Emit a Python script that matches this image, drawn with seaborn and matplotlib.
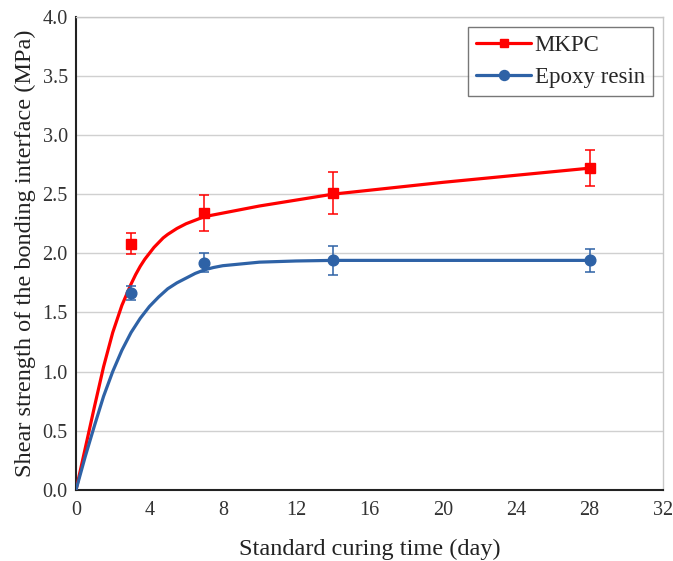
import numpy as np
import pandas as pd
import matplotlib.pyplot as plt
import seaborn as sns
from matplotlib.lines import Line2D
from matplotlib.ticker import MultipleLocator

# measured points (mean, error)
days = [3, 7, 14, 28]
mkpc_mean = [2.08, 2.34, 2.51, 2.72]
mkpc_err = [0.09, 0.15, 0.18, 0.15]
epoxy_mean = [1.665, 1.92, 1.94, 1.94]
epoxy_err = [0.06, 0.08, 0.12, 0.095]

# fitted curves
mkpc_fit_x = [0, 0.5, 1, 1.5, 2, 2.5, 3, 3.25, 3.5, 3.75, 4, 4.25, 4.5, 4.75, 5, 5.5, 6, 6.5, 7,
              8, 9, 10, 12, 14, 17, 20, 24, 28]
mkpc_fit_y = [0, 0.35, 0.70, 1.04, 1.33, 1.56, 1.74, 1.82, 1.89, 1.95, 2.0, 2.05, 2.09, 2.13, 2.16,
              2.21, 2.25, 2.28, 2.31, 2.34, 2.37, 2.40, 2.45, 2.50, 2.55, 2.60, 2.66, 2.72]
epoxy_fit_x = [0, 0.5, 1, 1.5, 2, 2.5, 3, 3.5, 4, 4.5, 5, 5.5, 6, 6.5, 7, 7.5, 8, 9, 10, 12, 14,
               20, 28]
epoxy_fit_y = [0, 0.28, 0.54, 0.79, 1.0, 1.18, 1.33, 1.45, 1.55, 1.63, 1.70, 1.75, 1.79, 1.83, 1.86,
               1.88, 1.895, 1.91, 1.925, 1.935, 1.94, 1.94, 1.94]

series = ['MKPC', 'Epoxy resin']
colors = {'MKPC': '#FF0000', 'Epoxy resin': '#2E62A6'}
markers = {'MKPC': 's', 'Epoxy resin': 'o'}
msizes = {'MKPC': 6.5, 'Epoxy resin': 7.7}

sns.set_style("white")
plt.rcParams['font.family'] = ['Liberation Serif', 'DejaVu Serif']
plt.rcParams['lines.solid_joinstyle'] = 'round'

fit = pd.concat([
    pd.DataFrame({'x': mkpc_fit_x, 'y': mkpc_fit_y, 'series': 'MKPC'}),
    pd.DataFrame({'x': epoxy_fit_x, 'y': epoxy_fit_y, 'series': 'Epoxy resin'}),
])

fig, ax = plt.subplots(figsize=(6.73, 5.61), dpi=100)
fig.subplots_adjust(left=0.113, right=0.985, bottom=0.127, top=0.97)

ax.yaxis.grid(True, color='#d0d0d0', lw=1)
ax.set_axisbelow(True)

sns.lineplot(data=fit, x='x', y='y', hue='series', palette=colors, lw=2.3,
             legend=False, ax=ax, zorder=3)

for name, mean, err in [('MKPC', mkpc_mean, mkpc_err), ('Epoxy resin', epoxy_mean, epoxy_err)]:
    ax.errorbar(days, mean, yerr=err, fmt=markers[name], color=colors[name],
                ms=msizes[name], elinewidth=1.1, capsize=3.6, capthick=1.1, zorder=4)

ax.set_xlim(0, 32)
ax.set_ylim(0, 4.0)
ax.xaxis.set_major_locator(MultipleLocator(4))
ax.xaxis.set_minor_locator(MultipleLocator(2))
ax.yaxis.set_major_locator(MultipleLocator(0.5))
ax.yaxis.set_minor_locator(MultipleLocator(0.25))
ax.yaxis.set_major_formatter(plt.FormatStrFormatter('%.1f'))
ax.tick_params(which='major', direction='in', length=7, width=1.3, labelsize=14.5,
               colors='#222222', pad=6)
ax.tick_params(axis='x', pad=8)
ax.tick_params(which='minor', direction='in', length=4, width=1.2, colors='#222222')
ax.tick_params(axis='both', labelcolor='#333333')

for side in ['left', 'bottom']:
    ax.spines[side].set_color('#222222')
    ax.spines[side].set_linewidth(1.5)
for side in ['top', 'right']:
    ax.spines[side].set_color('#c8c8c8')
    ax.spines[side].set_linewidth(1)

ax.set_xlabel('Standard curing time (day)', fontsize=17.5, color='#222222', labelpad=14)
ax.set_ylabel('Shear strength of the bonding interface (MPa)', fontsize=17.5, color='#222222',
              labelpad=5)

handles = [Line2D([], [], color=colors[s], marker=markers[s], lw=2.3, ms=msizes[s] - 0.5)
           for s in series]
leg = ax.legend(handles, series, loc='upper right', bbox_to_anchor=(0.983, 0.979),
                fontsize=16.5, frameon=True, fancybox=False, handlelength=2.4,
                borderpad=0.35, labelspacing=0.5, handletextpad=0.15, borderaxespad=0)
leg.get_frame().set_edgecolor('#555555')
leg.get_frame().set_linewidth(1)

plt.savefig('out.png', dpi=100)
